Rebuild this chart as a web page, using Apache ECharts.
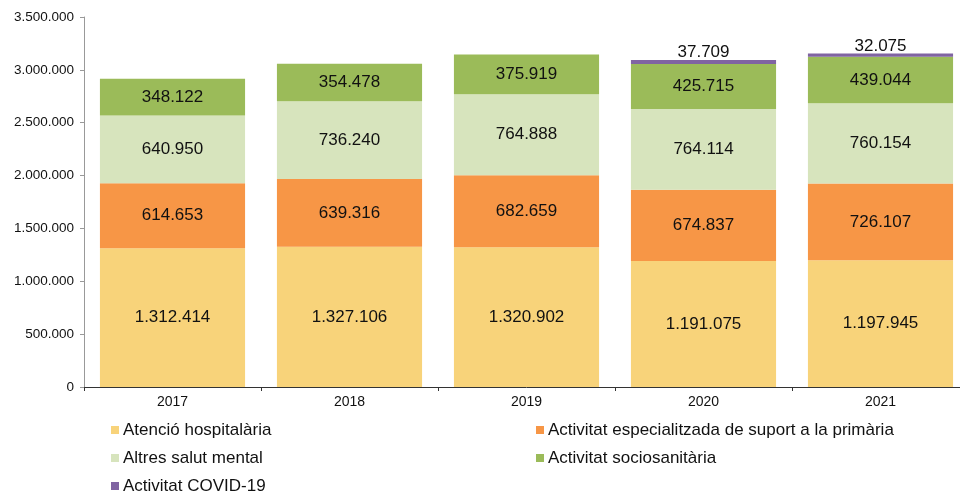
<!DOCTYPE html>
<html><head><meta charset="utf-8">
<script src="https://cdn.jsdelivr.net/npm/echarts@6/dist/echarts.min.js"></script>
<style>html,body{margin:0;padding:0;background:#fff;overflow:hidden}#c{width:970px;height:491px}</style>
</head><body><div id="c"></div>
<script>
const categories = ['2017','2018','2019','2020','2021'];
const seriesNames = ['Atenció hospitalària','Activitat especialitzada de suport a la primària','Altres salut mental','Activitat sociosanitària','Activitat COVID-19'];
const hospitalaria = [1312414,1327106,1320902,1191075,1197945];
const especialitzada = [614653,639316,682659,674837,726107];
const salutMental = [640950,736240,764888,764114,760154];
const sociosanitaria = [348122,354478,375919,425715,439044];
const covid = [null,null,null,37709,32075];
const yTicks = [0,500000,1000000,1500000,2000000,2500000,3000000,3500000];

const colors = ['#F8D37A','#F79646','#D7E4BD','#9BBB59','#8064A2'];
const fmt = v => String(v).replace(/\B(?=(\d{3})+(?!\d))/g,'.');
const values = [hospitalaria, especialitzada, salutMental, sociosanitaria, covid];

const series = values.map((d,i)=>({
  name: seriesNames[i], type:'bar', stack:'total', data:d,
  barCategoryGap:'18%',
  itemStyle:{color:colors[i]},
  label:{show:true, position: i===4?'top':'inside', distance: i===4?-1:5,
    color:'#111', fontSize:17, fontFamily:'Liberation Sans, Arial, sans-serif',
    formatter:p=>p.value==null?'':fmt(p.value)}
}));

const legendPos = [[111,421],[536,421],[111,449],[536,449],[111,477]];
const legends = seriesNames.map((n,i)=>({
  data:[n], left:legendPos[i][0], top:legendPos[i][1], itemWidth:8, itemHeight:8,
  icon:'rect', itemGap:0, padding:0,
  textStyle:{fontSize:17, lineHeight:18, color:'#111', fontFamily:'Liberation Sans, Arial, sans-serif', padding:[0,0,0,-1]}
}));

const chart = echarts.init(document.getElementById('c'));
chart.setOption({
  animation:false,
  color:colors,
  legend:legends,
  grid:{left:84, top:17, bottom:104, width:885, containLabel:false},
  xAxis:{type:'category', data:categories,
    axisLine:{lineStyle:{color:'#333', width:1}},
    axisTick:{show:true, length:4, lineStyle:{color:'#333'}},
    axisLabel:{fontSize:14, color:'#111', margin:8, fontFamily:'Liberation Sans, Arial, sans-serif'}},
  yAxis:{type:'value', min:0, max:3500000, interval:500000,
    splitLine:{show:false},
    axisLine:{show:true, lineStyle:{color:'#999'}},
    axisTick:{show:true, length:4, lineStyle:{color:'#999'}},
    axisLabel:{fontSize:13.5, color:'#111', margin:10, fontFamily:'Liberation Sans, Arial, sans-serif',
      formatter:v=> yTicks.includes(v)?fmt(v):''}},
  series:series
});
</script></body></html>
